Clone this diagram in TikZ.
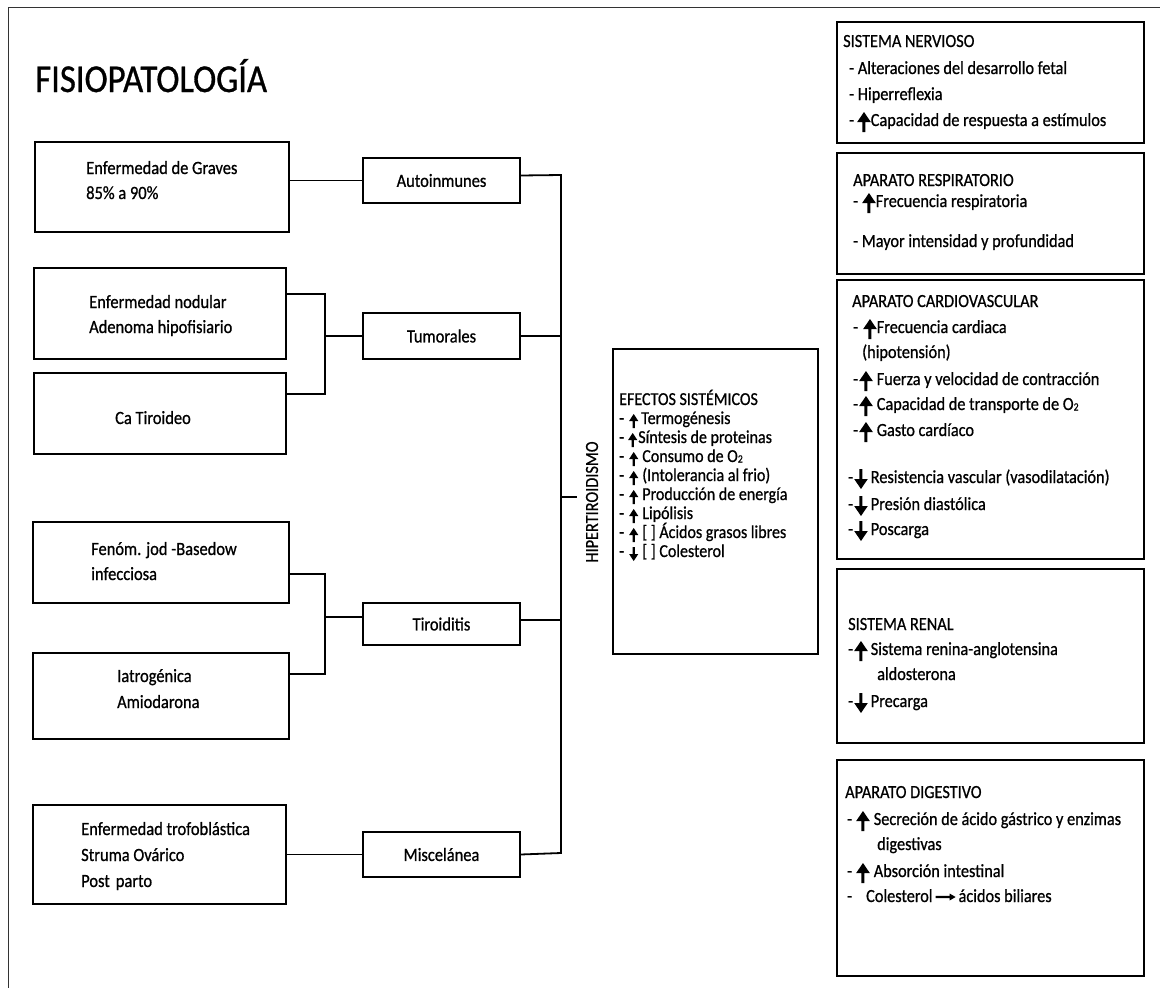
\documentclass[tikz,border=0pt]{standalone}
\usepackage{fontspec}
\setmainfont{Carlito}[FakeStretch=0.88,FakeBold=0.8]
\newcommand{\ub}{\tikz[x=1pt,y=1pt,baseline=6pt]\fill (-1.5,0) -- (1.5,0) -- (1.5,10) -- (6.8,10) -- (0,20) -- (-6.8,10) -- (-1.5,10) -- cycle;}
\newcommand{\db}{\tikz[x=1pt,y=1pt,baseline=6pt]\fill (-1.5,20) -- (1.5,20) -- (1.5,10) -- (6.8,10) -- (0,0) -- (-6.8,10) -- (-1.5,10) -- cycle;}
\newcommand{\us}{\tikz[x=1pt,y=1pt,baseline=4pt]\fill (-1.2,0) -- (1.2,0) -- (1.2,7) -- (4.6,7) -- (0,14) -- (-4.6,7) -- (-1.2,7) -- cycle;}
\newcommand{\ds}{\tikz[x=1pt,y=1pt,baseline=4pt]\fill (-1.2,14) -- (1.2,14) -- (1.2,7) -- (4.6,7) -- (0,0) -- (-4.6,7) -- (-1.2,7) -- cycle;}
\newcommand{\rar}{\tikz[x=1pt,y=1pt,baseline=-5pt]\fill (0,-1.2) -- (14,-1.2) -- (14,-3.5) -- (20,0) -- (14,3.5) -- (14,1.2) -- (0,1.2) -- cycle;}
\newcommand{\Ot}{O\raisebox{-0.5pt}{\fontsize{11}{11}\selectfont 2}}
\newcommand{\bx}[7]{\node[#2,inner sep=0pt,minimum width={(#5-#3)*1pt},minimum height={(#6-#4)*1pt}] (#1) at ({(#3+#5)/2},{(#4+#6)/2}) {#7};}
\begin{document}
\begin{tikzpicture}[x=1pt,y=-1pt,
  lbox/.style={draw,line width=2pt},
  mbox/.style={draw,line width=1.2pt,font=\fontsize{18.7}{22}\selectfont},
  rbox/.style={draw,line width=1.4pt},
  conn/.style={line width=1.8pt},
  txt/.style={anchor=base west,inner sep=0pt,font=\fontsize{18.7}{22}\selectfont},
  rtxt/.style={anchor=base west,inner sep=0pt,font=\fontsize{18.5}{22}\selectfont},
  etxt/.style={anchor=base west,inner sep=0pt,font=\fontsize{18.2}{22}\selectfont}
]
\useasboundingbox (0,0) rectangle (1160,988);
% frame
\draw[line width=1pt,black!80] (8,988) -- (8,7) -- (1160,7);
% title
\node[anchor=base west,inner sep=0pt,font=\fontsize{39.5}{44}\selectfont] (title) at (35,92) {FISIOPATOLOGÍA};
% left boxes
\bx{graves}{lbox}{35}{142}{289}{232}{}
\bx{nod}{lbox}{34}{268}{286}{359}{}
\bx{ca}{lbox}{34}{373}{286}{454}{}
\bx{fen}{lbox}{33}{522}{289}{603}{}
\bx{iat}{lbox}{33}{653}{289}{739}{}
\bx{tro}{lbox}{33}{805}{286}{904}{}
\node[txt] (t1) at (86,174) {Enfermedad de Graves};
\node[txt] (t2) at (86,199) {85\% a 90\%};
\node[txt] (t3) at (89,308) {Enfermedad nodular};
\node[txt] (t4) at (89,333) {Adenoma hipofisiario};
\node[txt] (t5) at (115,424) {Ca Tiroideo};
\node[txt] (t6) at (91,555) {Fenóm. jod -Basedow};
\node[txt] (t7) at (91,580) {infecciosa};
\node[txt] (t8) at (117,682) {Iatrogénica};
\node[txt] (t9) at (117,708) {Amiodarona};
\node[txt] (t10) at (81,835) {Enfermedad trofoblástica};
\node[txt] (t11) at (81,861) {Struma Ovárico};
\node[txt] (t12) at (81,887) {Post\hspace{6pt}parto};
% middle boxes
\bx{auto}{mbox}{363}{158}{520}{203}{Autoinmunes}
\bx{tum}{mbox}{363}{313}{520}{359}{Tumorales}
\bx{tir}{mbox}{363}{603}{520}{645}{Tiroiditis}
\bx{mis}{mbox}{363}{832}{520}{877}{Miscelánea}
% connectors
\coordinate (bustop) at (561,175);
\coordinate (busbot) at (561,853);
\coordinate (tick) at (577,497);
\coordinate (tb1) at (325,294);
\coordinate (tb2) at (325,394);
\coordinate (tb3) at (325,574);
\coordinate (tb4) at (325,674);
\draw[conn] (auto.west -| graves.east) -- (auto.west);
\draw[conn] ([yshift=5pt]auto.east) -- (bustop) -- (busbot) -- (mis.east);
\draw[conn] (tum.east) -- (tum.east -| bustop);
\draw[conn] ([yshift=4pt]tir.east) -- ([yshift=4pt]tir.east -| bustop);
\draw[conn] (tick -| bustop) -- (tick);
\draw[line width=1.5pt] (tb1 -| nod.east) -- (tb1) -- (tb2) -- (tb2 -| ca.east);
\draw[line width=1.5pt] (tum.west -| tb1) -- (tum.west);
\draw[line width=1.5pt] (tb3 -| fen.east) -- (tb3) -- (tb4) -- (tb4 -| iat.east);
\draw[line width=1.5pt] ([yshift=7pt]tir.west -| tb3) -- ([yshift=7pt]tir.west);
\draw[conn] (mis.west -| tro.east) -- (mis.west);
% vertical label
\node[rotate=90,inner sep=0pt,font=\fontsize{18.5}{22}\selectfont] (hip) at (592,502) {HIPERTIROIDISMO};
% efectos box
\bx{efe}{mbox}{613}{349}{818}{654}{}
\node[etxt] (e0) at (619,405) {EFECTOS SISTÉMICOS};
\node[etxt] (e1) at (619,424) {-\hspace{5pt}\us\hspace{3pt}Termogénesis};
\node[etxt] (e2) at (619,443) {-\hspace{4pt}\us\hspace{1pt}Síntesis de proteinas};
\node[etxt] (e3) at (619,462) {-\hspace{5pt}\us\hspace{4pt}Consumo de \Ot};
\node[etxt] (e4) at (619,481) {-\hspace{5pt}\us\hspace{4pt}(Intolerancia al frio)};
\node[etxt] (e5) at (619,500) {-\hspace{5pt}\us\hspace{4pt}Producción de energía};
\node[etxt] (e6) at (619,519) {-\hspace{5pt}\us\hspace{4pt}Lipólisis};
\node[etxt] (e7) at (619,538) {-\hspace{5pt}\us\hspace{4pt}[ ] Ácidos grasos libres};
\node[etxt] (e8) at (619,557) {-\hspace{5pt}\ds\hspace{4pt}[ ] Colesterol};
% right boxes
\bx{ner}{rbox}{837}{22}{1144}{143}{}
\bx{res}{rbox}{837}{153}{1144}{274}{}
\bx{car}{rbox}{837}{280}{1144}{559}{}
\bx{ren}{rbox}{837}{569}{1144}{743}{}
\bx{dig}{rbox}{837}{760}{1144}{976}{}
\node[rtxt] (n0) at (843,47) {SISTEMA NERVIOSO};
\node[rtxt] (n1) at (849,74) {- Alteraciones del desarrollo fetal};
\node[rtxt] (n2) at (849,100) {- Hiperreflexia};
\node[rtxt] (n3) at (849,126) {-\hspace{3pt}\ub\hspace{0pt}Capacidad de respuesta a estímulos};
\node[rtxt] (r0) at (853,186) {APARATO RESPIRATORIO};
\node[rtxt] (r1) at (853,207) {-\hspace{4pt}\ub\hspace{0pt}Frecuencia respiratoria};
\node[rtxt] (r2) at (853,247) {- Mayor intensidad y profundidad};
\node[rtxt] (c0) at (852,307) {APARATO CARDIOVASCULAR};
\node[rtxt] (c1) at (853,333) {-\hspace{5pt}\ub\hspace{0pt}Frecuencia cardiaca};
\node[rtxt] (c2) at (862,358) {(hipotensión)};
\node[rtxt] (c3) at (853,385) {-\hspace{1pt}\ub\hspace{4pt}Fuerza y velocidad de contracción};
\node[rtxt] (c4) at (853,410) {-\hspace{1pt}\ub\hspace{4pt}Capacidad de transporte de \Ot};
\node[rtxt] (c5) at (853,436) {-\hspace{1pt}\ub\hspace{4pt}Gasto cardíaco};
\node[rtxt] (c6) at (848,483) {-\hspace{1pt}\db\hspace{3pt}Resistencia vascular (vasodilatación)};
\node[rtxt] (c7) at (848,510) {-\hspace{1pt}\db\hspace{3pt}Presión diastólica};
\node[rtxt] (c8) at (848,535) {-\hspace{1pt}\db\hspace{3pt}Poscarga};
\node[rtxt] (k0) at (848,630) {SISTEMA RENAL};
\node[rtxt] (k1) at (848,655) {-\hspace{1pt}\ub\hspace{3pt}Sistema renina-anglotensina};
\node[rtxt] (k2) at (877,680) {aldosterona};
\node[rtxt] (k3) at (848,707) {-\hspace{1pt}\db\hspace{3pt}Precarga};
\node[rtxt] (d0) at (845,798) {APARATO DIGESTIVO};
\node[rtxt] (d1) at (847,825) {-\hspace{4pt}\ub\hspace{4pt}Secreción de ácido gástrico y enzimas};
\node[rtxt] (d2) at (877,850) {digestivas};
\node[rtxt] (d3) at (847,877) {-\hspace{4pt}\ub\hspace{4pt}Absorción intestinal};
\node[rtxt] (d4) at (847,902) {-\hspace{14pt}Colesterol\hspace{3pt}\rar\hspace{3pt}ácidos biliares};
\end{tikzpicture}
\end{document}
